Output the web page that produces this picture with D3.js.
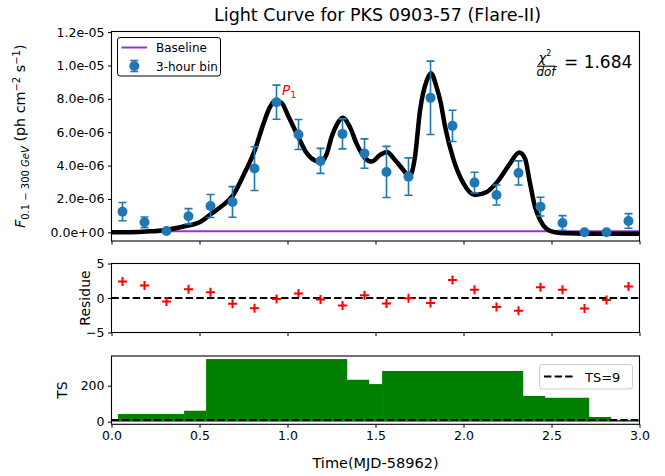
<!DOCTYPE html>
<html>
<head>
<meta charset="utf-8">
<script src="https://cdn.jsdelivr.net/npm/d3@7"></script>
<style>
  html, body { margin: 0; padding: 0; background: #fff; }
  svg text { font-family: "DejaVu Sans", sans-serif; fill: #000; }
</style>
</head>
<body>
<svg id="chart" width="665" height="476"></svg>
<script>
// ---- light-curve data (3-hour bins, times in MJD-58962) ----
const binTimes = [0.0625, 0.1875, 0.3125, 0.4375, 0.5625, 0.6875, 0.8125, 0.9375,
                  1.0625, 1.1875, 1.3125, 1.4375, 1.5625, 1.6875, 1.8125, 1.9375,
                  2.0625, 2.1875, 2.3125, 2.4375, 2.5625, 2.6875, 2.8125, 2.9375];
// flux in units of 1e-6 ph cm^-2 s^-1
const fluxValues = [1.24, 0.60, 0.08, 0.96, 1.58, 1.82, 3.82, 7.80,
                    5.86, 4.28, 5.90, 4.72, 3.62, 3.34, 8.06, 6.38,
                    2.98, 2.24, 3.56, 1.54, 0.56, 0.00, 0.00, 0.68];
const fluxErrors = [0.55, 0.32, 0.06, 0.46, 0.69, 0.92, 1.31, 1.02,
                    0.90, 0.75, 0.90, 0.88, 1.53, 1.12, 2.20, 0.94,
                    0.62, 0.60, 0.72, 0.56, 0.44, 0.05, 0.05, 0.44];
const residues = [2.4, 1.8, -0.5, 1.28, 0.84, -0.83, -1.47, -0.15,
                  0.64, -0.2, -1.07, 0.4, -0.78, -0.05, -0.74, 2.6,
                  1.18, -1.32, -1.86, 1.57, 1.18, -1.52, -0.29, 1.66];

// fitted flare profile, sampled (flux in 1e-6)
const fitTimes = [0.00, 0.10, 0.20, 0.30, 0.42, 0.50, 0.565, 0.63, 0.689, 0.749,
                  0.815, 0.863, 0.90, 0.93, 0.967, 1.005, 1.062, 1.109, 1.156, 1.189,
                  1.223, 1.25, 1.28, 1.314, 1.355, 1.393, 1.44, 1.478, 1.526, 1.564,
                  1.611, 1.658, 1.692, 1.724, 1.753, 1.791, 1.815, 1.847, 1.87, 1.895,
                  1.942, 1.999, 2.065, 2.132, 2.198, 2.264, 2.317, 2.349, 2.378, 2.406,
                  2.435, 2.473, 2.52, 2.586, 2.70, 3.00];
const fitFlux = [0.00, 0.01, 0.05, 0.13, 0.38, 0.60, 1.10, 1.60, 2.20, 3.40,
                 4.95, 6.50, 7.50, 7.90, 7.75, 6.95, 5.70, 4.75, 4.30, 4.22,
                 4.70, 5.70, 6.45, 6.86, 6.30, 5.30, 4.45, 4.24, 4.64, 4.82,
                 4.34, 3.74, 3.34, 4.50, 7.30, 9.10, 9.54, 8.70, 7.80, 6.35,
                 4.40, 2.95, 2.24, 2.42, 3.10, 4.12, 4.78, 4.44, 2.94, 1.54,
                 0.74, 0.20, 0.00, -0.06, -0.08, -0.08];
const baselineFlux = 0.07;
const chi2dof = "1.684";

// TS blocks: edges and values
const tsEdges = [0, 0.0375, 0.4125, 0.5375, 1.3375, 1.4625, 1.5375, 2.3375, 2.4625, 2.7125, 2.8375, 3.0];
const tsValues = [15, 43, 61, 348, 233, 209, 282, 143, 133, 26, 10];
const tsThreshold = 9;

const xTicks = [0.0, 0.5, 1.0, 1.5, 2.0, 2.5, 3.0];
const fluxTicks = [0, 2e-6, 4e-6, 6e-6, 8e-6, 1.0e-5, 1.2e-5];
const fluxTickLabels = ["0.0e+00", "2.0e-06", "4.0e-06", "6.0e-06", "8.0e-06", "1.0e-05", "1.2e-05"];
const resTicks = [-5, 0, 5];
const tsTicks = [0, 200];

// ---- layout ----
const svg = d3.select("#chart");
const X0 = 111.5, X1 = 639.5;
const panels = {
  top: { y0: 31.5, y1: 241 },
  mid: { y0: 263.5, y1: 332.5 },
  bot: { y0: 356, y1: 424.3 }
};
const blue = "#1f77b4";
const purple = "#9932cc";

const x = d3.scaleLinear().domain([0, 3]).range([X0, X1]);
const yF = d3.scaleLinear().domain([-0.52e-6, 1.2036e-5]).range([panels.top.y1, panels.top.y0]);
const yR = d3.scaleLinear().domain([-5, 5]).range([panels.mid.y1, panels.mid.y0]);
const yT = d3.scaleLinear().domain([-14.5, 365]).range([panels.bot.y1, panels.bot.y0]);

function clip(id, p) {
  svg.append("clipPath").attr("id", id).append("rect")
    .attr("x", X0).attr("y", p.y0).attr("width", X1 - X0).attr("height", p.y1 - p.y0);
}
clip("clipTop", panels.top);
clip("clipMid", panels.mid);
clip("clipBot", panels.bot);

function styleAxis(g, fontSize) {
  g.select(".domain").remove();
  g.selectAll(".tick line").attr("stroke", "#000").attr("stroke-width", 1);
  g.selectAll(".tick text").attr("font-size", fontSize).attr("font-family", "DejaVu Sans");
}
function frame(p) {
  svg.append("rect").attr("x", X0).attr("y", p.y0).attr("width", X1 - X0).attr("height", p.y1 - p.y0)
    .attr("fill", "none").attr("stroke", "#000").attr("stroke-width", 1.1);
}

// ---- top panel: light curve ----
const gTop = svg.append("g");
const gTopPlot = gTop.append("g").attr("clip-path", "url(#clipTop)");

gTopPlot.append("line")
  .attr("x1", X0).attr("x2", X1)
  .attr("y1", yF(baselineFlux * 1e-6)).attr("y2", yF(baselineFlux * 1e-6))
  .attr("stroke", purple).attr("stroke-width", 2);

const fitPts = fitTimes.map((t, i) => [t, fitFlux[i] * 1e-6]);
gTopPlot.append("path")
  .attr("d", d3.line().x(d => x(d[0])).y(d => yF(d[1])).curve(d3.curveMonotoneX)(fitPts))
  .attr("fill", "none").attr("stroke", "#000").attr("stroke-width", 4.5)
  .attr("stroke-linejoin", "round");

const pts = binTimes.map((t, i) => ({ t, f: fluxValues[i] * 1e-6, e: fluxErrors[i] * 1e-6 }));
const eb = gTopPlot.append("g").selectAll("g").data(pts).join("g");
eb.append("line")
  .attr("x1", d => x(d.t)).attr("x2", d => x(d.t))
  .attr("y1", d => yF(d.f - d.e)).attr("y2", d => yF(d.f + d.e))
  .attr("stroke", blue).attr("stroke-width", 1.6);
eb.append("line")
  .attr("x1", d => x(d.t) - 4).attr("x2", d => x(d.t) + 4)
  .attr("y1", d => yF(d.f + d.e)).attr("y2", d => yF(d.f + d.e))
  .attr("stroke", blue).attr("stroke-width", 1.6);
eb.append("line")
  .attr("x1", d => x(d.t) - 4).attr("x2", d => x(d.t) + 4)
  .attr("y1", d => yF(d.f - d.e)).attr("y2", d => yF(d.f - d.e))
  .attr("stroke", blue).attr("stroke-width", 1.6);
eb.append("circle")
  .attr("cx", d => x(d.t)).attr("cy", d => yF(d.f)).attr("r", 5)
  .attr("fill", blue);

frame(panels.top);
styleAxis(gTop.append("g").attr("transform", `translate(${X0},0)`)
  .call(d3.axisLeft(yF).tickValues(fluxTicks).tickFormat((d, i) => fluxTickLabels[i]).tickSize(3.5).tickPadding(3.5)), 12.5);
styleAxis(gTop.append("g").attr("transform", `translate(0,${panels.top.y1})`)
  .call(d3.axisBottom(x).tickValues(xTicks).tickFormat("").tickSize(3.5)), 12.5);

// P1 peak marker
const p1 = svg.append("text").attr("x", x(binTimes[7]) + 5.5).attr("y", yF(fluxValues[7] * 1e-6) - 7.5)
  .attr("font-size", 13.5).style("fill", "red");
p1.append("tspan").attr("font-style", "italic").text("P");
p1.append("tspan").attr("font-size", 9.5).attr("dy", 3).text("1");

// chi^2/dof annotation
const cx = 546;
svg.append("text").attr("x", cx - 1).attr("y", 61.5).attr("text-anchor", "middle").attr("font-size", 13)
  .html('<tspan font-style="italic">χ</tspan><tspan font-size="8" dy="-5.5">2</tspan>');
svg.append("line").attr("x1", cx - 9).attr("x2", cx + 9).attr("y1", 66.2).attr("y2", 66.2)
  .attr("stroke", "#000").attr("stroke-width", 1.1);
svg.append("text").attr("x", cx).attr("y", 76).attr("text-anchor", "middle").attr("font-size", 12)
  .attr("font-style", "italic").text("dof");
svg.append("text").attr("x", 564).attr("y", 67.5).attr("font-size", 17).text("= " + chi2dof);

// legend (top)
const lg = svg.append("g");
lg.append("rect").attr("x", 117.5).attr("y", 37.5).attr("width", 103).attr("height", 38.5)
  .attr("rx", 2.5).attr("fill", "#fff").attr("stroke", "#000").attr("stroke-width", 1);
lg.append("line").attr("x1", 121.5).attr("x2", 147).attr("y1", 47.5).attr("y2", 47.5)
  .attr("stroke", purple).attr("stroke-width", 2);
lg.append("text").attr("x", 156).attr("y", 52).attr("font-size", 12).text("Baseline");
lg.append("line").attr("x1", 134.3).attr("x2", 134.3).attr("y1", 60.5).attr("y2", 71.5)
  .attr("stroke", blue).attr("stroke-width", 1.6);
lg.append("line").attr("x1", 130.3).attr("x2", 138.3).attr("y1", 60.5).attr("y2", 60.5)
  .attr("stroke", blue).attr("stroke-width", 1.6);
lg.append("line").attr("x1", 130.3).attr("x2", 138.3).attr("y1", 71.5).attr("y2", 71.5)
  .attr("stroke", blue).attr("stroke-width", 1.6);
lg.append("circle").attr("cx", 134.3).attr("cy", 66).attr("r", 5).attr("fill", blue);
lg.append("text").attr("x", 156).attr("y", 70.5).attr("font-size", 12).text("3-hour bin");

// title
svg.append("text").attr("x", (X0 + X1) / 2 + 2).attr("y", 21).attr("text-anchor", "middle")
  .attr("font-size", 17.5).text("Light Curve for PKS 0903-57 (Flare-II)");

// y label (top)
const yl = svg.append("text").attr("transform", `translate(25,${(panels.top.y0 + panels.top.y1) / 2}) rotate(-90)`)
  .attr("text-anchor", "middle").attr("font-size", 14.3);
yl.append("tspan").attr("font-style", "italic").text("F");
yl.append("tspan").attr("font-size", 10).attr("dy", 3.5).text("0.1 − 300 ");
yl.append("tspan").attr("font-size", 10).attr("font-style", "italic").text("GeV");
yl.append("tspan").attr("dy", -3.5).text(" (ph cm");
yl.append("tspan").attr("font-size", 10).attr("dy", -5.5).text("−2");
yl.append("tspan").attr("dy", 5.5).text(" s");
yl.append("tspan").attr("font-size", 10).attr("dy", -5.5).text("−1");
yl.append("tspan").attr("dy", 5.5).text(")");

// ---- middle panel: residues ----
const gMid = svg.append("g");
const gMidPlot = gMid.append("g").attr("clip-path", "url(#clipMid)");
gMidPlot.append("line").attr("x1", X0).attr("x2", X1).attr("y1", yR(0)).attr("y2", yR(0))
  .attr("stroke", "#000").attr("stroke-width", 2).attr("stroke-dasharray", "7.4,3.2");
const plus = gMidPlot.append("g").selectAll("g").data(binTimes.map((t, i) => [t, residues[i]])).join("g")
  .attr("transform", d => `translate(${x(d[0])},${yR(d[1])})`);
plus.append("line").attr("x1", -4.5).attr("x2", 4.5).attr("stroke", "red").attr("stroke-width", 2);
plus.append("line").attr("y1", -4.5).attr("y2", 4.5).attr("stroke", "red").attr("stroke-width", 2);
frame(panels.mid);
styleAxis(gMid.append("g").attr("transform", `translate(${X0},0)`)
  .call(d3.axisLeft(yR).tickValues(resTicks).tickSize(3.5).tickPadding(3.5).tickFormat(d => d < 0 ? "−" + Math.abs(d) : d)), 12.5);
styleAxis(gMid.append("g").attr("transform", `translate(0,${panels.mid.y1})`)
  .call(d3.axisBottom(x).tickValues(xTicks).tickFormat("").tickSize(3.5)), 12.5);
svg.append("text").attr("transform", `translate(90,${(panels.mid.y0 + panels.mid.y1) / 2}) rotate(-90)`)
  .attr("text-anchor", "middle").attr("font-size", 14).text("Residue");

// ---- bottom panel: TS ----
const gBot = svg.append("g");
const gBotPlot = gBot.append("g").attr("clip-path", "url(#clipBot)");
gBotPlot.selectAll("rect").data(tsValues).join("rect")
  .attr("x", (d, i) => x(tsEdges[i]))
  .attr("width", (d, i) => x(tsEdges[i + 1]) - x(tsEdges[i]) + 0.3)
  .attr("y", d => yT(d))
  .attr("height", d => yT(0) - yT(d))
  .attr("fill", "#008000");
gBotPlot.append("line").attr("x1", X0).attr("x2", X1).attr("y1", yT(tsThreshold)).attr("y2", yT(tsThreshold))
  .attr("stroke", "#000").attr("stroke-width", 2).attr("stroke-dasharray", "7.4,3.2");
frame(panels.bot);
styleAxis(gBot.append("g").attr("transform", `translate(${X0},0)`)
  .call(d3.axisLeft(yT).tickValues(tsTicks).tickSize(3.5).tickPadding(3.5)), 12.5);
styleAxis(gBot.append("g").attr("transform", `translate(0,${panels.bot.y1})`)
  .call(d3.axisBottom(x).tickValues(xTicks).tickFormat(d3.format(".1f")).tickSize(3.5).tickPadding(3.5)), 12.5);
svg.append("text").attr("transform", `translate(67,${(panels.bot.y0 + panels.bot.y1) / 2}) rotate(-90)`)
  .attr("text-anchor", "middle").attr("font-size", 14).text("TS");
svg.append("text").attr("x", (X0 + X1) / 2).attr("y", 468).attr("text-anchor", "middle")
  .attr("font-size", 14.5).text("Time(MJD-58962)");

// TS legend
const lg2 = svg.append("g");
lg2.append("rect").attr("x", 539.5).attr("y", 364.5).attr("width", 93).attr("height", 24.5)
  .attr("rx", 2.5).attr("fill", "#fff").attr("fill-opacity", 0.8).attr("stroke", "#cccccc").attr("stroke-width", 1);
lg2.append("line").attr("x1", 544).attr("x2", 574).attr("y1", 376.5).attr("y2", 376.5)
  .attr("stroke", "#000").attr("stroke-width", 2).attr("stroke-dasharray", "7.4,3.2");
lg2.append("text").attr("x", 585).attr("y", 381.5).attr("font-size", 13).text("TS=9");
</script>
</body>
</html>
